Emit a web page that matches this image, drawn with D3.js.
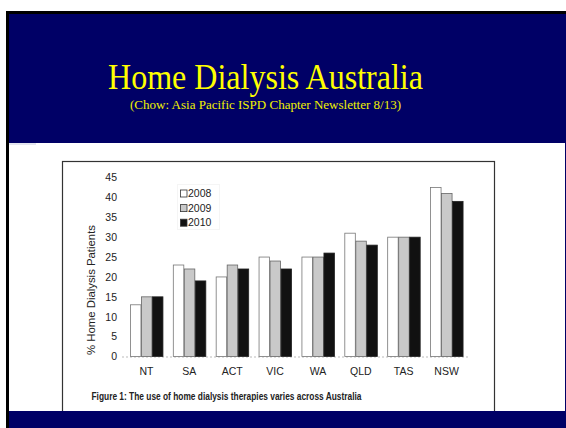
<!DOCTYPE html>
<html><head><meta charset="utf-8">
<script src="https://cdn.jsdelivr.net/npm/d3@7"></script>
<style>html,body{margin:0;padding:0;background:#fff;}svg{display:block;}</style>
</head><body>
<svg id="c" width="566" height="428"></svg>
<script>
const categories = ["NT","SA","ACT","VIC","WA","QLD","TAS","NSW"];
const years = ["2008","2009","2010"];
const values2008 = [13, 23, 20, 25, 25, 31, 30, 42.5];
const values2009 = [15, 22, 23, 24, 25, 29, 30, 41];
const values2010 = [15, 19, 22, 22, 26, 28, 30, 39];
const yTicks = [0,5,10,15,20,25,30,35,40,45];
const title = "Home Dialysis Australia";
const subtitle = "(Chow: Asia Pacific ISPD Chapter Newsletter 8/13)";
const yTitle = "% Home Dialysis Patients";
const caption = "Figure 1: The use of home dialysis therapies varies across Australia";

const series = [values2008, values2009, values2010];
const fills = ["#ffffff", "#c9c9c9", "#111111"];
const strokes = ["#777", "#666", "#222"];

const svg = d3.select("#c");
const navy = "#000066";

// slide frame
svg.append("rect").attr("x",6).attr("y",11).attr("width",560).attr("height",417).attr("fill","#000");
svg.append("rect").attr("x",9).attr("y",14).attr("width",557).attr("height",414).attr("fill",navy);
svg.append("rect").attr("x",9).attr("y",143).attr("width",556).attr("height",268).attr("fill","#fff");
svg.append("line").attr("x1",9).attr("x2",36).attr("y1",144).attr("y2",144).attr("stroke","#c8cce0").attr("stroke-width",1);

// title
svg.append("text").attr("x",265.5).attr("y",89).attr("text-anchor","middle")
  .attr("font-family","'Liberation Serif','Times New Roman',serif").attr("font-size",35.5)
  .attr("textLength",315).attr("lengthAdjust","spacingAndGlyphs")
  .attr("fill","#ffff00").text(title);
svg.append("text").attr("x",265.5).attr("y",108.5).attr("text-anchor","middle")
  .attr("font-family","'Liberation Serif','Times New Roman',serif").attr("font-size",13.5)
  .attr("textLength",271).attr("lengthAdjust","spacingAndGlyphs")
  .attr("fill","#f0f000").text(subtitle);

// figure box
svg.append("rect").attr("x",62.5).attr("y",161.5).attr("width",432).attr("height",260)
  .attr("fill","#fff").attr("stroke","#333").attr("stroke-width",1.2);
// re-draw bottom navy over box
svg.append("rect").attr("x",9).attr("y",411).attr("width",557).attr("height",17).attr("fill",navy);
svg.append("rect").attr("x",6).attr("y",411).attr("width",3).attr("height",17).attr("fill","#000");

// scales
const x0 = d3.scaleBand().domain(categories).range([125, 468]).paddingInner(0.23).paddingOuter(0.115);
const x1 = d3.scaleBand().domain(years).range([0, x0.bandwidth()]).padding(0);
const y = d3.scaleLinear().domain([0,45]).range([356.5, 177.5]);

const font = "'Liberation Sans', Arial, sans-serif";

// baseline
svg.append("line").attr("x1",122).attr("x2",470).attr("y1",y(0)+0.5).attr("y2",y(0)+0.5)
  .attr("stroke","#bbb").attr("stroke-width",1).attr("stroke-dasharray","2,2");

// y axis
const ya = svg.append("g").attr("transform","translate(117,0)")
  .call(d3.axisLeft(y).tickValues(yTicks).tickSize(0).tickPadding(0));
ya.select(".domain").remove();
ya.selectAll("text").attr("font-family",font).attr("font-size",10.5).attr("fill","#222");

// x axis
const xa = svg.append("g").attr("transform",`translate(0,${y(0)+11})`)
  .call(d3.axisBottom(x0).tickSize(0).tickPadding(0));
xa.select(".domain").remove();
xa.selectAll("text").attr("font-family",font).attr("font-size",10.5).attr("fill","#222");

// bars
years.forEach((yr, si) => {
  svg.append("g").selectAll("rect").data(categories).join("rect")
    .attr("x", (c) => x0(c) + x1(yr) + 0.5)
    .attr("width", x1.bandwidth() - 0.5)
    .attr("y", (c, i) => y(series[si][i]))
    .attr("height", (c, i) => y(0) - y(series[si][i]))
    .attr("fill", fills[si]).attr("stroke", strokes[si]).attr("stroke-width", 0.8);
});

// y title
svg.append("text").attr("transform","translate(95,290) rotate(-90)").attr("text-anchor","middle")
  .attr("font-family",font).attr("font-size",11.2).attr("fill","#222")
  .attr("textLength",130).attr("lengthAdjust","spacingAndGlyphs").text(yTitle);

// legend
const lg = svg.append("g");
lg.append("rect").attr("x",177.5).attr("y",184.5).attr("width",42).attr("height",45)
  .attr("fill","none").attr("stroke","#e4e4e4").attr("stroke-width",0.8).attr("stroke-dasharray","1,1");
years.forEach((yr, i) => {
  const yy = 193.5 + i*14.6;
  lg.append("rect").attr("x",180.5).attr("y",yy-3.5).attr("width",6.5).attr("height",7)
    .attr("fill",fills[i]).attr("stroke","#333").attr("stroke-width",0.8);
  lg.append("text").attr("x",188).attr("y",yy).attr("dy","0.35em")
    .attr("font-family",font).attr("font-size",10.5).attr("fill","#222").text(yr);
});

// caption
svg.append("text").attr("x",91.5).attr("y",400)
  .attr("font-family","'Liberation Sans Narrow','Liberation Sans',Arial,sans-serif")
  .attr("font-weight","bold").attr("font-size",10.5).attr("fill","#222")
  .attr("textLength",270).attr("lengthAdjust","spacingAndGlyphs").text(caption);
</script>
</body></html>
